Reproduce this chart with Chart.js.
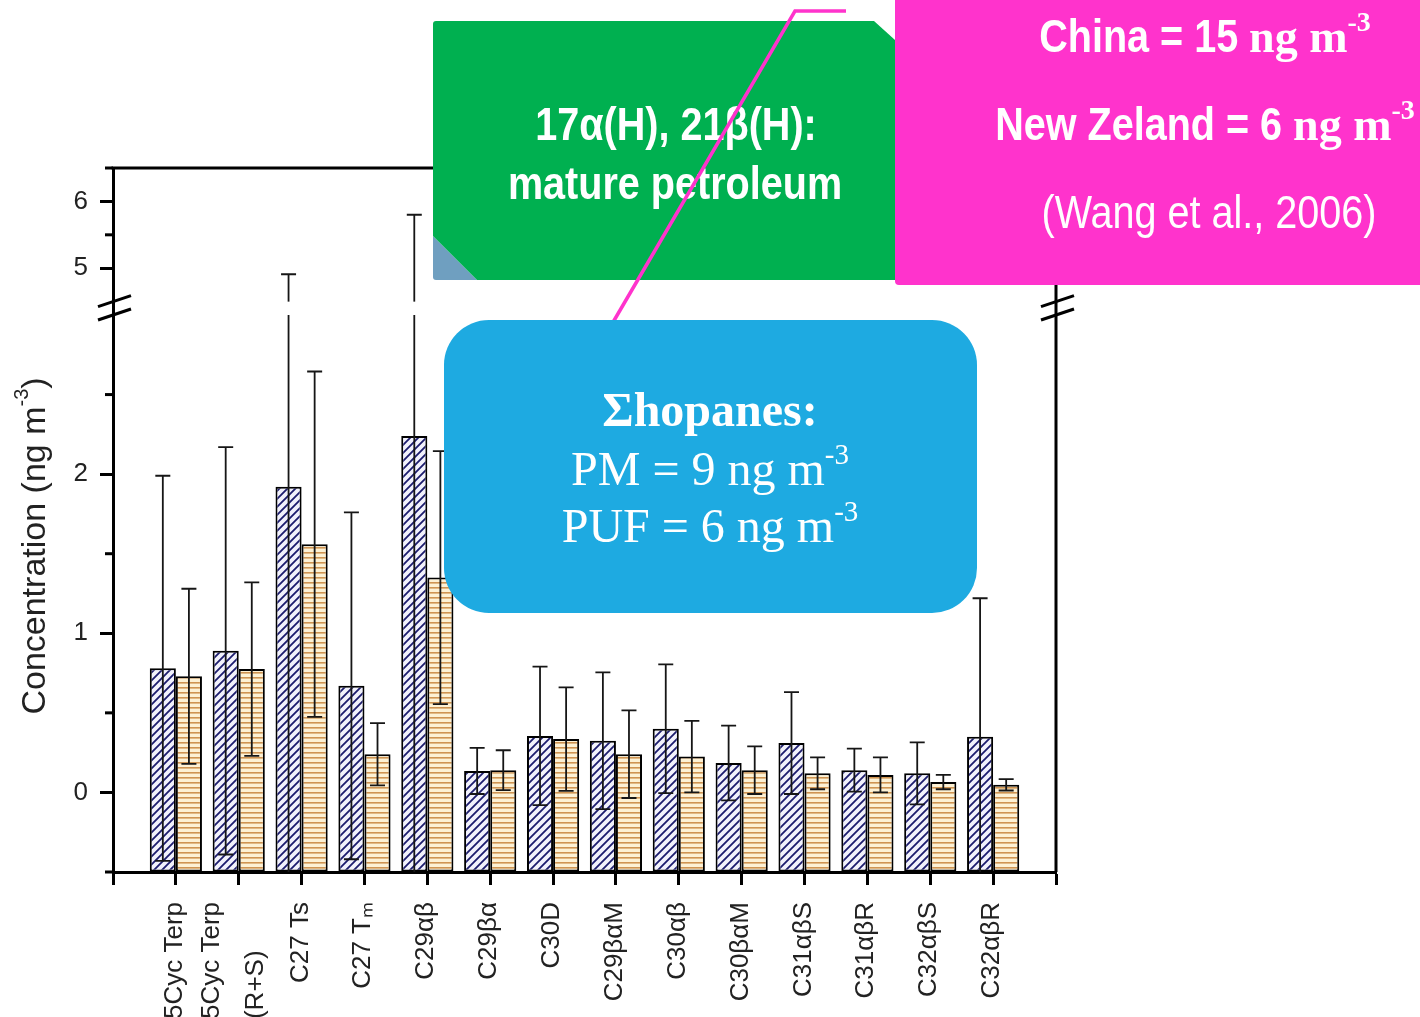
<!DOCTYPE html>
<html>
<head>
<meta charset="utf-8">
<title>Hopane and terpane concentrations</title>
<script src="https://cdn.jsdelivr.net/npm/chart.js@4.4.1/dist/chart.umd.min.js"></script>
<style>
  html, body { margin: 0; padding: 0; background: #fff; }
  canvas { display: block; }
</style>
</head>
<body>
<canvas id="chart" width="1420" height="1017"></canvas>
<script>
// ---- data (ng m-3): mean and standard deviation per compound ----
const categories = ['5Cyc Terp', ['5Cyc Terp', '(R+S)'], 'C27 Ts', 'C27 T\u2098', 'C29\u03b1\u03b2', 'C29\u03b2\u03b1',
  'C30D', 'C29\u03b2\u03b1M', 'C30\u03b1\u03b2', 'C30\u03b2\u03b1M', 'C31\u03b1\u03b2S', 'C31\u03b1\u03b2R', 'C32\u03b1\u03b2S', 'C32\u03b1\u03b2R'];
const pmMean  = [0.78, 0.89, 1.92, 0.67, 2.24, 0.135, 0.355, 0.325, 0.40, 0.185, 0.31, 0.14, 0.12, 0.35];
const pmSd    = [1.21, 1.28, 2.99, 1.09, 3.56, 0.145, 0.435, 0.43, 0.405, 0.235, 0.32, 0.135, 0.195, 0.87];
const pufMean = [0.73, 0.775, 1.56, 0.24, 1.35, 0.14, 0.335, 0.24, 0.225, 0.14, 0.12, 0.11, 0.065, 0.048];
const pufSd   = [0.55, 0.545, 1.085, 0.196, 0.795, 0.125, 0.325, 0.275, 0.225, 0.15, 0.10, 0.11, 0.045, 0.036];

// broken value axis: lower and upper segments
const lowerTicks = [-0.5, 0, 0.5, 1, 1.5, 2, 2.5];
const upperTicks = [5, 5.5, 6, 6.5];
const lowerRange = [-0.5, 3.0];
const upperRange = [4.3, 6.5];
const upperVisibleFrom = 4.5;

// ---- fill patterns ----
function hatchPattern(kind) {
  const t = document.createElement('canvas');
  const c = t.getContext('2d');
  if (kind === 'diag') {
    const s = 8;
    t.width = s; t.height = s;
    c.fillStyle = '#f2f2fc'; c.fillRect(0, 0, s, s);
    c.strokeStyle = '#1c1c6e'; c.lineWidth = 1.8;
    c.beginPath();
    c.moveTo(-1, s + 1); c.lineTo(s + 1, -1);
    c.moveTo(-1, 1); c.lineTo(1, -1);
    c.moveTo(s - 1, s + 1); c.lineTo(s + 1, s - 1);
    c.stroke();
  } else {
    t.width = 4; t.height = 5;
    c.fillStyle = '#fdf1d4'; c.fillRect(0, 0, 4, 5);
    c.fillStyle = '#cf9452'; c.fillRect(0, 2, 4, 1.6);
  }
  return c.createPattern(t, 'repeat');
}

const pad = arr => [null, ...arr, null];
const axisLabels = ['', ...categories.map(c => Array.isArray(c) ? c.join(' ') : c), ''];
const sdSets = [pmSd, pufSd];

// ---- text helper: runs of differently styled text on one baseline ----
function drawRuns(ctx, runs, cx, baseline) {
  let total = 0;
  const widths = runs.map(r => {
    ctx.font = r.font;
    const w = ctx.measureText(r.text).width * (r.sx || 1);
    total += w;
    return w;
  });
  let x = cx - total / 2;
  ctx.textAlign = 'left';
  ctx.textBaseline = 'alphabetic';
  runs.forEach((r, i) => {
    ctx.save();
    ctx.font = r.font;
    ctx.translate(x, baseline + (r.dy || 0));
    ctx.scale(r.sx || 1, 1);
    ctx.fillText(r.text, 0, 0);
    ctx.restore();
    x += widths[i];
  });
}

const SANS = '"Liberation Sans", Arial, sans-serif';
const SERIF = '"Liberation Serif", "Times New Roman", serif';

function valuePixel(chart, v) {
  const lo = chart.scales.y, hi = chart.scales.yTop;
  return v <= lo.max ? lo.getPixelForValue(v) : hi.getPixelForValue(v);
}

const brokenAxisPlugin = {
  id: 'brokenAxis',
  afterDatasetsDraw(chart) {
    const ctx = chart.ctx, area = chart.chartArea;
    ctx.save();
    ctx.beginPath();
    ctx.rect(area.left, area.top, area.right - area.left, area.bottom - area.top);
    ctx.clip();
    ctx.strokeStyle = '#161616';
    ctx.lineWidth = 1.8;
    chart.data.datasets.forEach((ds, di) => {
      const meta = chart.getDatasetMeta(di);
      meta.data.forEach((bar, i) => {
        const m = ds.data[i];
        if (m == null) return;
        const sd = sdSets[di][i - 1];
        const x = bar.x;
        const yHi = valuePixel(chart, m + sd);
        const yLo = valuePixel(chart, m - sd);
        ctx.beginPath();
        ctx.moveTo(x, yLo); ctx.lineTo(x, yHi);
        ctx.moveTo(x - 7.5, yHi); ctx.lineTo(x + 7.5, yHi);
        ctx.moveTo(x - 7.5, yLo); ctx.lineTo(x + 7.5, yLo);
        ctx.stroke();
      });
    });
    ctx.restore();
  },
  afterDraw(chart) {
    const ctx = chart.ctx, area = chart.chartArea;
    const lo = chart.scales.y, hi = chart.scales.yTop, xs = chart.scales.x;
    const gapTop = hi.getPixelForValue(upperVisibleFrom);
    const gapBottom = lo.top;

    // gap between the two value segments
    ctx.save();
    ctx.fillStyle = '#fff';
    ctx.fillRect(area.left + 2, gapTop, area.right - area.left - 4, gapBottom - gapTop);

    // frame: top and right
    ctx.strokeStyle = '#000';
    ctx.lineWidth = 3;
    ctx.beginPath();
    ctx.moveTo(area.left - 1.5, area.top); ctx.lineTo(area.right + 1.5, area.top);
    ctx.moveTo(area.right, area.top); ctx.lineTo(area.right, area.bottom);
    ctx.stroke();

    // minor ticks
    [[lo, lowerTicks], [hi, upperTicks]].forEach(([s, ticks]) => {
      ticks.filter(v => !Number.isInteger(v)).forEach(v => {
        const py = s.getPixelForValue(v);
        ctx.beginPath();
        ctx.moveTo(area.left - 8, py); ctx.lineTo(area.left, py);
        ctx.stroke();
      });
    });

    // break marks on both vertical axes
    ctx.lineWidth = 3;
    [area.left, area.right].forEach(ax => {
      [gapTop, gapBottom].forEach(yc => {
        ctx.beginPath();
        ctx.moveTo(ax - 15, yc + 5);
        ctx.lineTo(ax + 18, yc - 6);
        ctx.stroke();
      });
    });

    // category labels, rotated
    ctx.fillStyle = '#222';
    ctx.font = '26px ' + SANS;
    const labelEnd = area.bottom + 30;
    categories.forEach((cat, i) => {
      const lines = Array.isArray(cat) ? cat : [cat];
      const px = xs.getPixelForValue(i + 1);
      const maxW = Math.max(...lines.map(l => ctx.measureText(l).width));
      lines.forEach((line, k) => {
        const off = lines.length > 1 ? (k - (lines.length - 1) / 2) * 44 - 4 : 0;
        ctx.save();
        ctx.translate(px + off + 6, labelEnd + maxW);
        ctx.rotate(-Math.PI / 2);
        ctx.textAlign = 'left';
        ctx.textBaseline = 'alphabetic';
        ctx.fillText(line, 0, 0);
        ctx.restore();
      });
    });

    // value axis title
    ctx.save();
    ctx.translate(45, 546);
    ctx.rotate(-Math.PI / 2);
    ctx.fillStyle = '#222';
    drawRuns(ctx, [
      { text: 'Concentration (ng m', font: '34px ' + SANS },
      { text: '-3', font: '20px ' + SANS, dy: -17 },
      { text: ')', font: '34px ' + SANS }
    ], 0, 0);
    ctx.restore();

    // ---- callouts ----
    // green note with folded corner
    ctx.fillStyle = '#6f9fc0';
    ctx.beginPath();
    ctx.moveTo(433, 236); ctx.lineTo(477, 280); ctx.lineTo(436, 280);
    ctx.quadraticCurveTo(433, 280, 433, 277);
    ctx.closePath(); ctx.fill();
    ctx.fillStyle = '#00b050';
    ctx.beginPath();
    ctx.moveTo(433, 24); ctx.quadraticCurveTo(433, 21, 436, 21);
    ctx.lineTo(874, 21); ctx.lineTo(895, 40); ctx.lineTo(895, 280);
    ctx.lineTo(477, 280); ctx.lineTo(433, 236);
    ctx.closePath(); ctx.fill();
    ctx.fillStyle = '#fff';
    drawRuns(ctx, [{ text: '17\u03b1(H), 21\u03b2(H):', font: 'bold 46px ' + SANS, sx: 0.86 }], 676, 140);
    drawRuns(ctx, [{ text: 'mature petroleum', font: 'bold 46px ' + SANS, sx: 0.86 }], 675, 199);

    // leader line
    ctx.strokeStyle = '#ff33cc';
    ctx.lineWidth = 3.5;
    ctx.lineJoin = 'miter';
    ctx.beginPath();
    ctx.moveTo(612, 324); ctx.lineTo(795, 11); ctx.lineTo(846, 11);
    ctx.stroke();

    // blue summary box
    ctx.fillStyle = '#1eaae1';
    ctx.beginPath();
    ctx.roundRect(444, 320, 533, 293, 45);
    ctx.fill();
    ctx.fillStyle = '#fff';
    drawRuns(ctx, [{ text: '\u03a3hopanes:', font: 'bold 48px ' + SERIF }], 710, 426);
    drawRuns(ctx, [
      { text: 'PM = 9 ng m', font: '48px ' + SERIF },
      { text: '-3', font: '29px ' + SERIF, dy: -21 }
    ], 710, 485);
    drawRuns(ctx, [
      { text: 'PUF = 6 ng m', font: '48px ' + SERIF },
      { text: '-3', font: '29px ' + SERIF, dy: -21 }
    ], 710, 542);

    // magenta reference box
    ctx.fillStyle = '#ff33cc';
    ctx.beginPath();
    ctx.roundRect(895, 0, 530, 285, [0, 0, 0, 4]);
    ctx.fill();
    ctx.fillStyle = '#fff';
    drawRuns(ctx, [
      { text: 'China = 15 ', font: 'bold 46px ' + SANS, sx: 0.86 },
      { text: 'ng m', font: 'bold 46px ' + SERIF },
      { text: '-3', font: 'bold 28px ' + SERIF, dy: -21 }
    ], 1205, 52);
    drawRuns(ctx, [
      { text: 'New Zeland = 6 ', font: 'bold 46px ' + SANS, sx: 0.86 },
      { text: 'ng m', font: 'bold 46px ' + SERIF },
      { text: '-3', font: 'bold 28px ' + SERIF, dy: -21 }
    ], 1205, 140);
    drawRuns(ctx, [{ text: '(Wang et al., 2006)', font: '46px ' + SANS, sx: 0.86 }], 1209, 228);
    ctx.restore();
  }
};

const yTickFont = { family: SANS, size: 26 };
const majorTickColor = c => (c.tick && Number.isInteger(c.tick.value)) ? '#000' : 'rgba(0,0,0,0)';

new Chart(document.getElementById('chart'), {
  type: 'bar',
  data: {
    labels: axisLabels,
    datasets: [
      { label: 'PM', data: pad(pmMean), backgroundColor: hatchPattern('diag'),
        borderColor: '#000', borderWidth: 2, borderSkipped: false, base: lowerRange[0], yAxisID: 'y' },
      { label: 'PUF', data: pad(pufMean), backgroundColor: hatchPattern('horiz'),
        borderColor: '#000', borderWidth: 2, borderSkipped: false, base: lowerRange[0], yAxisID: 'y' }
    ]
  },
  options: {
    responsive: false,
    animation: false,
    devicePixelRatio: 1,
    layout: { padding: { top: 168, right: 364, bottom: 0, left: 0 } },
    plugins: { legend: { display: false }, tooltip: { enabled: false }, title: { display: false } },
    datasets: { bar: { categoryPercentage: 0.83, barPercentage: 1.0 } },
    scales: {
      x: {
        type: 'category',
        offset: false,
        grid: { offset: false, drawOnChartArea: false, drawTicks: true, tickLength: 13, tickWidth: 3, tickColor: '#000' },
        border: { width: 3, color: '#000' },
        ticks: { display: false, autoSkip: false },
        afterFit: s => { s.height = 145; }
      },
      y: {
        type: 'linear', position: 'left', stack: 'conc', stackWeight: 557,
        min: lowerRange[0], max: lowerRange[1],
        afterBuildTicks: s => { s.ticks = lowerTicks.map(v => ({ value: v })); },
        ticks: { font: yTickFont, color: '#222', padding: 12, callback: v => Number.isInteger(v) ? String(v) : '' },
        grid: { drawOnChartArea: false, drawTicks: true, tickLength: 13, tickWidth: 3, tickColor: majorTickColor },
        border: { width: 3, color: '#000' },
        afterFit: s => { s.width = 113; }
      },
      yTop: {
        type: 'linear', position: 'left', stack: 'conc', stackWeight: 147,
        min: upperRange[0], max: upperRange[1],
        afterBuildTicks: s => { s.ticks = upperTicks.map(v => ({ value: v })); },
        ticks: { font: yTickFont, color: '#222', padding: 12, callback: v => Number.isInteger(v) ? String(v) : '' },
        grid: { drawOnChartArea: false, drawTicks: true, tickLength: 13, tickWidth: 3, tickColor: majorTickColor },
        border: { width: 3, color: '#000' },
        afterFit: s => { s.width = 113; }
      }
    }
  },
  plugins: [brokenAxisPlugin]
});
</script>
</body>
</html>
